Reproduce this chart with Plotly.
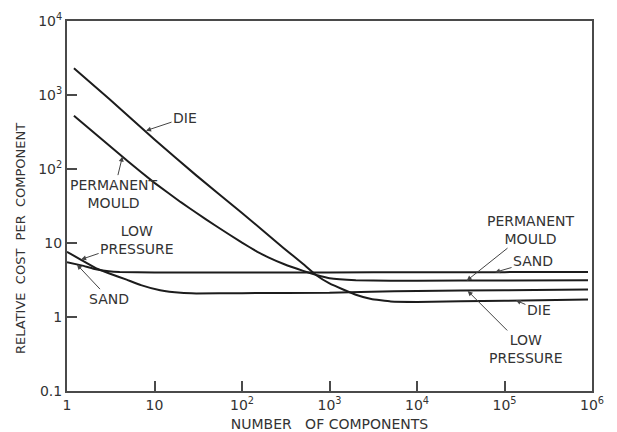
import numpy as np
import plotly.graph_objects as go

# ---- data (number of components vs relative cost) ----
die_x = [1.2, 3, 10, 30, 100, 300, 500, 700, 1000, 1500, 2000, 3000, 5000, 1e4, 1e5, 9e5]
die_y = [2300, 900, 250, 82, 25.5, 8.5, 5.2, 3.7, 2.85, 2.3, 2.0, 1.75, 1.62, 1.6, 1.66, 1.72]

pm_x = [1.2, 5, 10, 20, 30, 50, 100, 150, 200, 300, 500, 713, 1000, 2000, 5000, 1e4, 1e5, 9e5]
pm_y = [525, 126, 65, 35.6, 25.6, 17.1, 10.1, 7.6, 6.4, 5.2, 4.2, 3.69, 3.35, 3.15, 3.1, 3.1, 3.12, 3.13]

lp_x = [1, 1.5, 2.2, 3, 4.8, 7, 11.6, 20, 30, 100, 1000, 3000, 1e4, 1e5, 9e5]
lp_y = [7.6, 5.8, 4.5, 3.9, 3.2, 2.7, 2.3, 2.12, 2.08, 2.1, 2.12, 2.2, 2.25, 2.3, 2.35]

sand_x = [1, 1.5, 2, 3, 4, 10, 100, 1000, 1e4, 1e5, 9e5]
sand_y = [5.5, 4.95, 4.5, 4.15, 4.05, 4.0, 4.0, 4.0, 4.02, 4.04, 4.06]

x_tickvals = [1, 10, 100, 1000, 1e4, 1e5, 1e6]
x_ticktext = ["1", "10", "10<sup>2</sup>", "10<sup>3</sup>", "10<sup>4</sup>", "10<sup>5</sup>", "10<sup>6</sup>"]
y_tickvals = [0.1, 1, 10, 100, 1000, 1e4]
y_ticktext = ["0.1", "1", "10", "10<sup>2</sup>", "10<sup>3</sup>", "10<sup>4</sup>"]

LINE = "#1c1c1c"
TXT = "#333333"
FONT = "DejaVu Sans"

fig = go.Figure()
for xs, ys, name in [(die_x, die_y, "DIE"), (pm_x, pm_y, "PERMANENT MOULD"),
                     (lp_x, lp_y, "LOW PRESSURE"), (sand_x, sand_y, "SAND")]:
    fig.add_trace(go.Scatter(x=xs, y=ys, mode="lines", name=name,
                             line=dict(color=LINE, width=2, shape="spline", smoothing=0.25),
                             hoverinfo="x+y+name", showlegend=False))

axis_common = dict(type="log", showgrid=False, zeroline=False, showline=True, mirror=True,
                   linecolor="#4a4a4a", linewidth=2, ticks="inside", ticklen=10,
                   tickwidth=1.5, tickcolor="#4a4a4a", automargin=False,
                   tickfont=dict(family=FONT, size=14, color=TXT))

fig.update_xaxes(range=[0, 6], tickvals=x_tickvals, ticktext=x_ticktext,
                 title=dict(text="NUMBER\u00a0\u00a0\u00a0OF\u00a0COMPONENTS",
                            font=dict(family=FONT, size=14, color=TXT), standoff=10),
                 **axis_common)
fig.update_yaxes(range=[-1, 4], tickvals=y_tickvals, ticktext=y_ticktext, **axis_common)

def ann(text, xv, yv, ax, ay):
    fig.add_annotation(x=np.log10(xv), y=np.log10(yv), text=text, ax=ax, ay=ay,
                       showarrow=True, arrowhead=2, arrowsize=1, arrowwidth=1,
                       arrowcolor="#444444", font=dict(family=FONT, size=14, color=TXT),
                       align="center")

ann("DIE", 8, 330, 39, -13)
ann("PERMANENT<br>MOULD", 4.3, 147, -9, 37)
ann("LOW<br>PRESSURE", 1.45, 6.0, 56, -19)
ann("SAND", 1.3, 5.1, 32, 34)
ann("PERMANENT<br>MOULD", 3.7e4, 3.1, 64, -51)
ann("SAND", 7.8e4, 4.02, 38, -11)
ann("DIE", 1.35e5, 1.68, 23, 10)
ann("LOW<br>PRESSURE", 3.8e4, 2.25, 58, 58)

# page body adds an 8px offset; plot area targets x 67-592, y 21-391 in the window
fig.add_annotation(text="RELATIVE\u00a0\u00a0COST\u00a0\u00a0PER\u00a0\u00a0COMPONENT", textangle=-90,
                   xref="paper", yref="paper", x=(12 - 59) / 525, y=(383 - 231) / 370,
                   xanchor="center", yanchor="middle",
                   showarrow=False, font=dict(family=FONT, size=13, color=TXT))

fig.update_layout(width=609, height=424, margin=dict(l=59, r=25, t=13, b=41),
                  paper_bgcolor="white", plot_bgcolor="white")

fig.write_html("out.html")
